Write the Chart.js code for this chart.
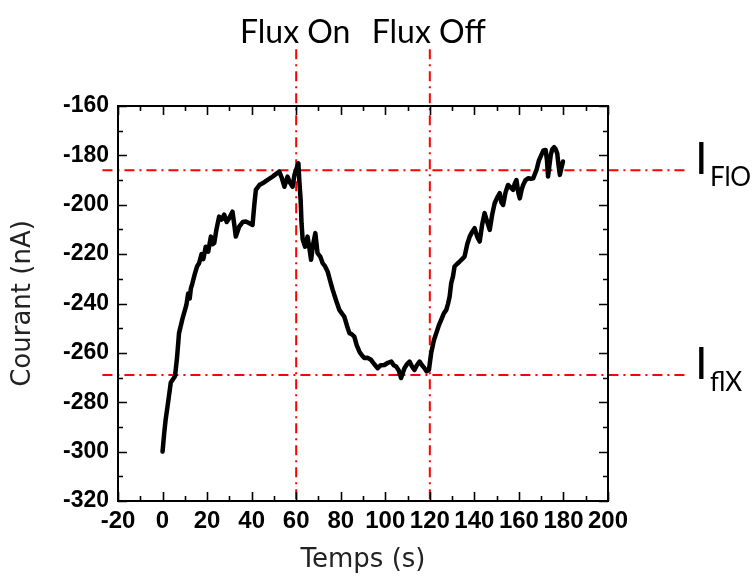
<!DOCTYPE html>
<html>
<head>
<meta charset="utf-8">
<script src="https://cdn.jsdelivr.net/npm/chart.js@4"></script>
<style>
  html, body { margin: 0; padding: 0; background: #fff; }
  #wrap { width: 753px; height: 577px; }
</style>
</head>
<body>
<div id="wrap"><canvas id="courantChart" width="753" height="577"></canvas></div>
<script>
// Temps (s) et courant (nA)
const timeS = [
  0, 0.8, 1.4, 2.5, 3.7, 5.6, 6.5, 7.4, 9, 10.7, 11.5, 12.2, 12.7, 13.4, 14.5, 15.5, 16.4, 17.5, 18.3, 19.4,
  20.5, 21.7, 22.5, 23.2, 24.2, 25.4, 26.5, 27.7, 28.8, 29.9, 31.4, 32.2, 32.9, 34.4, 36, 37.4, 39, 40.4, 41.2, 41.9,
  43.5, 44.9, 47, 49.4, 51, 52.4, 53.5, 54.7, 56.1, 57.2, 58.4, 59.2, 59.9, 61, 61.4, 62, 62.4, 62.9, 64, 65.1,
  66, 66.7, 67.6, 68.6, 69.6, 70.8, 71.9, 73, 74.1, 75.3, 76.4, 78, 79.4, 80.5, 81.6, 82.8, 83.9, 85, 86.1, 87.2,
  88.4, 89.5, 90.6, 92, 93.6, 95, 96.6, 98, 99.6, 101.2, 102.7, 103.8, 104.9, 106, 107.1, 108.6, 109.8, 110.9, 112, 113.1,
  114.2, 115.4, 116.5, 117.6, 118.6, 119.6, 120.6, 121.8, 122.9, 124, 125.1, 126.3, 127.4, 128.2, 128.9, 129.6, 130.4, 131.1, 132.2, 133.4,
  134.5, 135.6, 136.8, 137.9, 139, 140.1, 141.3, 142.4, 143.5, 144.6, 145.8, 146.9, 148, 149.1, 150.3, 151.4, 152.1, 152.9, 154, 155.1,
  156.3, 157.4, 158.1, 158.9, 159.7, 160.4, 161.2, 161.9, 163, 164.1, 165.3, 166.4, 167.2, 167.9, 169, 170.1, 171, 172, 172.6, 173.1,
  173.7, 174.3, 175, 175.8, 176.5, 177.2, 177.8, 178.4, 179.1, 179.8
];
const courantNA = [
  -300, -292, -287, -280, -272, -269.5, -262, -252, -246, -240.6, -236, -238, -234, -231.8, -228, -225, -223.7, -220, -222, -217,
  -219, -212.9, -216, -215.5, -210, -204.8, -206, -204, -207, -205.5, -202.8, -208, -212.9, -208.9, -207, -206.8, -207.5, -208.2, -200, -194,
  -192, -191.3, -190, -188.6, -187.5, -186.6, -189, -192.7, -188.6, -191, -192.7, -188, -186, -183.2, -190, -198, -207.5, -214, -217, -212.9,
  -218, -222.3, -216, -211.5, -219.6, -221, -223.7, -225, -227, -231, -234.5, -239, -242.6, -244, -245.3, -249, -252, -252.5, -253.4, -257,
  -259.5, -261, -262.1, -262, -262.8, -264.5, -266.2, -265, -264.9, -264, -263.5, -265, -265.5, -267, -270.2, -266.2, -264.5, -263.5, -265.5, -266.9,
  -265, -263.5, -265, -266.2, -267.5, -266.9, -260.1, -255, -252, -249, -246.6, -244, -242.6, -240, -237.2, -231.8, -229, -225, -224, -223,
  -222, -221, -216, -212.9, -211, -209.5, -213, -214.9, -208, -203.4, -207, -210.2, -204, -199.4, -197, -195.3, -199, -200.1, -195, -192,
  -193, -194, -191.5, -190, -195, -197.4, -194, -192, -190, -189.3, -189.5, -189.3, -187.5, -185.9, -182, -179.8, -178, -177.8, -182, -188.6,
  -184, -179.8, -177.5, -176.7, -177.5, -179.2, -184, -187.9, -185, -182.5
];

// Repères : instants du flux et niveaux de courant
const fluxTimes = [60, 120];
const fluxLabels = ['Flux On', 'Flux Off'];
const levelValues = [-186, -269];
const levelMain = ['I', 'I'];
const levelSub = ['FlO', 'flX'];

// Bornes des lignes de repère (elles débordent du cadre)
const levelSpanX = [-27, 235];
const fluxSpanY = [-137, -320];

// Graduations
const xMin = -20, xMax = 200, xStep = 20;
const yMin = -320, yMax = -160, yStep = 20;

const redDash = [10, 5, 2, 5];
const tickFamily = '"Liberation Sans", Arial, sans-serif';

const datasets = [{
  label: 'Courant',
  data: timeS.map((t, i) => ({ x: t, y: courantNA[i] })),
  borderColor: '#000',
  borderWidth: 4.5,
  borderJoinStyle: 'round',
  borderCapStyle: 'round',
  pointRadius: 0,
  tension: 0,
  fill: false
}];

levelValues.forEach(v => {
  datasets.push({
    data: levelSpanX.map(x => ({ x: x, y: v })),
    borderColor: '#ff0000',
    borderWidth: 2,
    borderDash: redDash,
    pointRadius: 0,
    fill: false,
    clip: false
  });
});
fluxTimes.forEach(t => {
  datasets.push({
    data: fluxSpanY.map(y => ({ x: t, y: y })),
    borderColor: '#ff0000',
    borderWidth: 2,
    borderDash: redDash,
    pointRadius: 0,
    fill: false,
    clip: false
  });
});

// Cadre avec graduations vers l'intérieur et textes annexes
const framePlugin = {
  id: 'frame',
  afterDraw(chart) {
    const ctx = chart.ctx;
    const a = chart.chartArea;
    const xs = chart.scales.x, ys = chart.scales.y;
    ctx.save();
    ctx.strokeStyle = '#000';
    ctx.lineWidth = 2;
    ctx.setLineDash([]);
    ctx.strokeRect(a.left, a.top, a.right - a.left, a.bottom - a.top);

    ctx.lineWidth = 1.6;
    ctx.beginPath();
    for (let v = xMin; v <= xMax; v += xStep / 2) {
      const px = Math.round(xs.getPixelForValue(v)) + 0.5;
      const len = (v % xStep === 0) ? 9 : 5;
      ctx.moveTo(px, a.bottom); ctx.lineTo(px, a.bottom - len);
      ctx.moveTo(px, a.top); ctx.lineTo(px, a.top + len);
    }
    for (let v = yMin; v <= yMax; v += yStep / 2) {
      const py = Math.round(ys.getPixelForValue(v)) + 0.5;
      const len = (v % yStep === 0) ? 9 : 5;
      ctx.moveTo(a.left, py); ctx.lineTo(a.left + len, py);
      ctx.moveTo(a.right, py); ctx.lineTo(a.right - len, py);
    }
    ctx.stroke();

    // Flux On / Flux Off
    ctx.fillStyle = '#000';
    ctx.font = '32px Lato, "Open Sans", sans-serif';
    ctx.textAlign = 'center';
    ctx.textBaseline = 'alphabetic';
    fluxTimes.forEach((t, i) => {
      ctx.fillText(fluxLabels[i], xs.getPixelForValue(t) - 1, 43);
    });

    // I_FlO / I_flX
    ctx.textAlign = 'left';
    levelValues.forEach((v, i) => {
      const py = ys.getPixelForValue(v);
      ctx.font = '45px Lato, "Open Sans", sans-serif';
      ctx.fillText(levelMain[i], 695, py + 4);
      ctx.font = '26px Lato, "Open Sans", sans-serif';
      ctx.fillText(levelSub[i], 710, py + 16);
    });
    ctx.restore();
  }
};

const chart = new Chart(document.getElementById('courantChart').getContext('2d'), {
  type: 'line',
  data: { datasets: datasets },
  options: {
    responsive: false,
    animation: false,
    layout: { padding: { top: 106, right: 145, left: 0, bottom: 0 } },
    plugins: { legend: { display: false }, tooltip: { enabled: false } },
    scales: {
      x: {
        type: 'linear',
        min: xMin, max: xMax,
        grid: { display: false, drawTicks: false },
        border: { display: false },
        ticks: { stepSize: xStep, color: '#000', padding: 6, maxRotation: 0, autoSkip: false,
                 font: { family: tickFamily, weight: 'bold', size: 24 } },
        title: { display: true, text: 'Temps (s)', color: '#222',
                 font: { family: 'DejaVu Sans, sans-serif', size: 26 }, padding: { top: 0, bottom: 1 } },
        afterFit(scale) { scale.height = 76; }
      },
      y: {
        min: yMin, max: yMax,
        grid: { display: false, drawTicks: false },
        border: { display: false },
        ticks: { stepSize: yStep, color: '#000', padding: 9,
                 font: { family: tickFamily, weight: 'bold', size: 23 } },
        title: { display: true, text: 'Courant (nA)', color: '#222',
                 font: { family: 'DejaVu Sans, sans-serif', size: 26 }, padding: { top: 8, bottom: 0 } },
        afterFit(scale) { scale.width = 118; }
      }
    }
  },
  plugins: [framePlugin]
});
</script>
</body>
</html>
